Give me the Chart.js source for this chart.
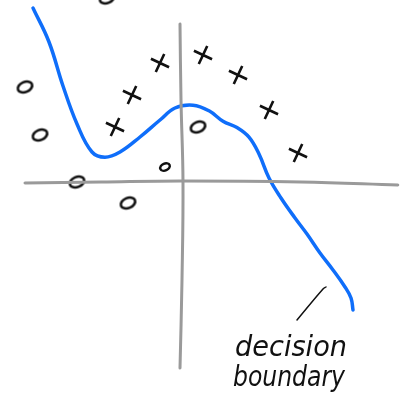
<!DOCTYPE html>
<html>
<head>
<meta charset="utf-8">
<script src="https://cdn.jsdelivr.net/npm/chart.js@4/dist/chart.umd.min.js"></script>
<style>
  html, body { margin: 0; padding: 0; background: #fff; }
  #wrap { width: 400px; height: 406px; }
</style>
</head>
<body>
<div id="wrap"><canvas id="chart" width="400" height="406"></canvas></div>
<script>
// hand-drawn axes (x, y pairs in plot units)
const xAxisX = [-3.9, -2.0, 0, 3.0, 5.42];
const xAxisY = [-0.025, 0, 0.025, 0, -0.075];
const yAxisX = [-0.025, 0, 0.05, 0.025, -0.025];
const yAxisY = [3.95, 2.05, 0, -2.45, -4.65];

// class "o"
const oX = [-3.9, -3.525, -2.6, -1.325, 0.425, -1.85];
const oY = [2.375, 1.175, 0, -0.525, 1.375, 4.6];
const oSmallX = [-0.4];
const oSmallY = [0.375];

// class "x"
const xX = [-1.65, -1.225, -0.525, 0.55, 1.425, 2.2, 2.925];
const xY = [1.375, 2.175, 2.975, 3.175, 2.675, 1.8, 0.725];

// decision boundary
const boundX = [-3.7, -3.3, -2.95, -2.6, -2.225, -1.9, -1.525, -1.025, -0.525, -0.15, 0.3, 0.7, 1.05, 1.4, 1.7, 1.95, 2.2, 2.5, 2.85, 3.15, 3.475, 3.8, 4.1, 4.25, 4.3];
const boundY = [4.35, 3.5, 2.4, 1.45, 0.75, 0.62, 0.75, 1.125, 1.55, 1.85, 1.92, 1.78, 1.52, 1.36, 1.12, 0.7, 0.1, -0.4, -0.9, -1.3, -1.775, -2.2, -2.625, -2.9, -3.2];

// pointer to the label
const pointerX = [2.9, 3.55, 3.625];
const pointerY = [-3.45, -2.675, -2.625];

const labelLines = ['decision', 'boundary'];

const pts = (xs, ys) => xs.map((x, i) => ({ x, y: ys[i] }));

const makeO = (rx, ry, lw) => {
    const c = document.createElement('canvas');
    c.width = 2 * rx + 6;
    c.height = 2 * rx + 6;
    const g = c.getContext('2d');
    g.strokeStyle = '#111';
    g.lineWidth = lw;
    g.beginPath();
    g.ellipse(c.width / 2, c.height / 2, rx, ry, -0.4, 0, Math.PI * 2);
    g.stroke();
    return c;
};

const labelPlugin = {
    id: 'boundaryLabel',
    afterDatasetsDraw(chart) {
        const { ctx, scales } = chart;
        ctx.save();
        ctx.fillStyle = '#111';
        ctx.textAlign = 'center';
        ctx.textBaseline = 'alphabetic';
        ctx.font = 'italic 28px "DejaVu Sans"';
        ctx.fillText(labelLines[0], scales.x.getPixelForValue(2.75), scales.y.getPixelForValue(-4.35), 112);
        ctx.fillText(labelLines[1], scales.x.getPixelForValue(2.7), scales.y.getPixelForValue(-5.1), 112);
        ctx.restore();
    },
};

const line = (xs, ys, color, width) => ({
    type: 'line',
    data: pts(xs, ys),
    borderColor: color,
    borderWidth: width,
    pointRadius: 0,
    tension: 0.4,
    fill: false,
    borderCapStyle: 'round',
    borderJoinStyle: 'round',
});

new Chart(document.getElementById('chart'), {
    type: 'scatter',
    data: {
        datasets: [
            line(xAxisX, xAxisY, '#9a9a9a', 3),
            line(yAxisX, yAxisY, '#9a9a9a', 3),
            line(boundX, boundY, '#0f6efa', 3.5),
            line(pointerX, pointerY, '#111', 1.5),
            { data: pts(oX, oY), pointStyle: makeO(7.5, 5, 2.6), pointRadius: 9 },
            { data: pts(oSmallX, oSmallY), pointStyle: makeO(5, 3.5, 2.4), pointRadius: 6 },
            {
                data: pts(xX, xY),
                pointStyle: 'cross',
                pointRadius: 10,
                rotation: 25,
                borderColor: '#111',
                borderWidth: 2.6,
            },
        ],
    },
    options: {
        responsive: false,
        animation: false,
        layout: { padding: 0, autoPadding: false },
        plugins: { legend: { display: false }, tooltip: { enabled: false } },
        scales: {
            x: { type: 'linear', min: -4.525, max: 5.475, display: false },
            y: { type: 'linear', min: -5.6, max: 4.55, display: false },
        },
    },
    plugins: [labelPlugin],
});
</script>
</body>
</html>
